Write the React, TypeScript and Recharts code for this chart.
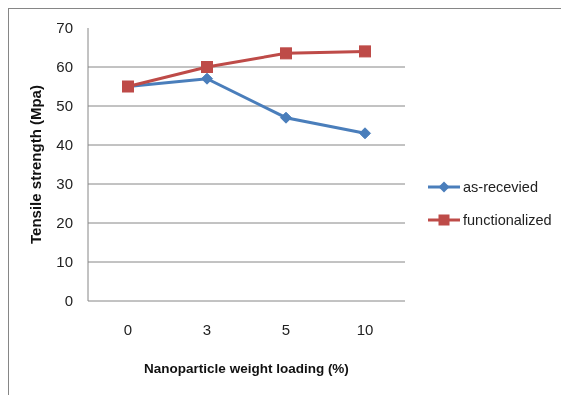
import React from 'react';
import { LineChart, Line, XAxis, YAxis, ReferenceLine, Label } from 'recharts';

const categories = ['0', '3', '5', '10'];
const asReceived = [55, 57, 47, 43];
const functionalized = [55, 60, 63.5, 64];
const yTicks = [0, 10, 20, 30, 40, 50, 60, 70];
const gridValues = [10, 20, 30, 40, 50, 60];
const seriesNames = ['as-recevied', 'functionalized'];

const BLUE = '#4A7EBB';
const RED = '#BE4B48';
const GRID = '#868686';
const FONT = '"Liberation Sans", Arial, sans-serif';

const data = categories.map((c, i) => ({ cat: c, a: asReceived[i], f: functionalized[i] }));

const Diamond = (props: any) => {
  const { cx, cy } = props;
  if (cx == null || cy == null) return null;
  const r = 5.5;
  return <polygon points={`${cx},${cy - r} ${cx + r},${cy} ${cx},${cy + r} ${cx - r},${cy}`} fill={BLUE} stroke={BLUE} />;
};

const Square = (props: any) => {
  const { cx, cy } = props;
  if (cx == null || cy == null) return null;
  const s = 11;
  return <rect x={cx - s / 2} y={cy - s / 2} width={s} height={s} fill={RED} stroke={RED} strokeWidth={1} />;
};

export default function App() {
  return (
    <div style={{ position: 'relative', width: 553, height: 387, fontFamily: FONT }}>
      <style>{'html,body{overflow:hidden}'}</style>
      <div style={{ position: 'fixed', left: 8, top: 8, width: 553, height: 1, background: GRID }} />
      <div style={{ position: 'fixed', left: 8, top: 8, width: 1, height: 387, background: GRID }} />
      <div style={{ position: 'absolute', left: 1, top: 1 }}>
        <LineChart
          width={552}
          height={386}
          data={data}
          margin={{ top: 19, left: 0, right: 156, bottom: 0 }}
          style={{ fontFamily: FONT }}
        >
          {gridValues.map((v) => (
            <ReferenceLine key={v} y={v} stroke={GRID} strokeWidth={1} />
          ))}
          <XAxis
            dataKey="cat"
            type="category"
            padding={{ left: 40, right: 40 }}
            axisLine={{ stroke: GRID }}
            tickLine={false}
            tickMargin={17}
            height={94}
            tick={{ fill: '#222', fontSize: 15, fontFamily: FONT }}
          >
            <Label
              value="Nanoparticle weight loading (%)"
              position="center"
              dy={20}
              style={{ fontWeight: 'bold', fontSize: 13.5, fill: '#111', fontFamily: FONT }}
            />
          </XAxis>
          <YAxis
            domain={[0, 70]}
            ticks={yTicks}
            width={79}
            axisLine={{ stroke: GRID }}
            tickLine={false}
            tickMargin={9}
            tick={{ fill: '#222', fontSize: 15, fontFamily: FONT }}
          >
            <Label
              value="Tensile strength (Mpa)"
              position="center"
              angle={-90}
              dx={-12.5}
              style={{ fontWeight: 'bold', fontSize: 15, fill: '#111', fontFamily: FONT, textAnchor: 'middle' }}
            />
          </YAxis>
          <Line
            dataKey="a"
            name={seriesNames[0]}
            stroke={BLUE}
            strokeWidth={3}
            dot={<Diamond />}
            activeDot={false}
            isAnimationActive={false}
          />
          <Line
            dataKey="f"
            name={seriesNames[1]}
            stroke={RED}
            strokeWidth={3}
            dot={<Square />}
            activeDot={false}
            isAnimationActive={false}
          />
        </LineChart>
      </div>
      <div style={{ position: 'absolute', left: 420, top: 162, fontFamily: FONT, fontSize: 14.5, color: '#222' }}>
        {seriesNames.map((n, i) => (
          <div key={n} style={{ height: 33, display: 'flex', alignItems: 'center' }}>
            <svg width={34} height={14} style={{ marginRight: 1 }}>
              <line x1={0} y1={7} x2={32} y2={7} stroke={i === 0 ? BLUE : RED} strokeWidth={3} />
              {i === 0 ? (
                <polygon points="16,1.5 21.5,7 16,12.5 10.5,7" fill={BLUE} />
              ) : (
                <rect x={10.5} y={1.5} width={11} height={11} fill={RED} />
              )}
            </svg>
            <span>{n}</span>
          </div>
        ))}
      </div>
    </div>
  );
}
